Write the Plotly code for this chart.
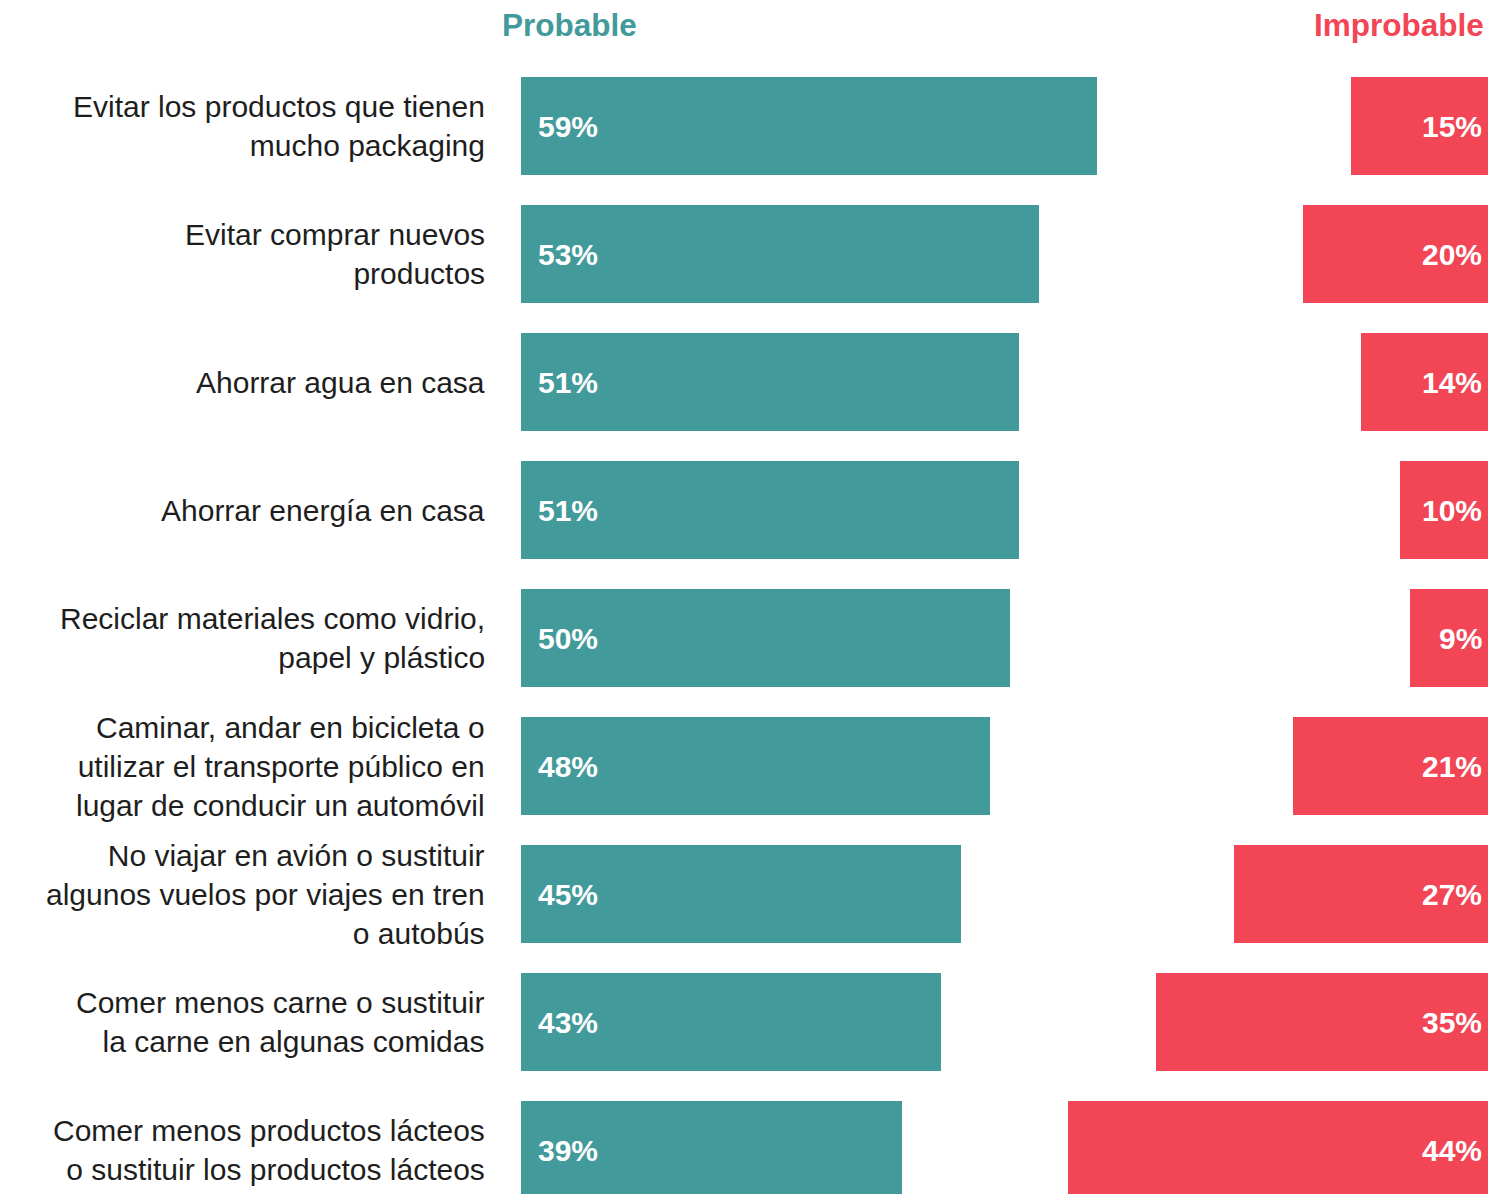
import plotly.graph_objects as go

# Survey items (top to bottom) and shares of respondents
categories = [
    "Evitar los productos que tienen<br>mucho packaging",
    "Evitar comprar nuevos<br>productos",
    "Ahorrar agua en casa",
    "Ahorrar energía en casa",
    "Reciclar materiales como vidrio,<br>papel y plástico",
    "Caminar, andar en bicicleta o<br>utilizar el transporte público en<br>lugar de conducir un automóvil",
    "No viajar en avión o sustituir<br>algunos vuelos por viajes en tren<br>o autobús",
    "Comer menos carne o sustituir<br>la carne en algunas comidas",
    "Comer menos productos lácteos<br>o sustituir los productos lácteos",
]
probable = [59, 53, 51, 51, 50, 48, 45, 43, 39]
improbable = [15, 20, 14, 10, 9, 21, 27, 35, 44]

TEAL = "#439A9A"
RED = "#F24556"
TEXT = "#1E1E1E"
FONT = "Liberation Sans, Arial, sans-serif"

W, H = 1488, 1194
ORIGIN_PX = 521          # pixel where the 0 % baseline sits
PX_PER_UNIT = 9.77       # pixels per percentage point
ROW_PX, ROW0_PX = 128, 126
FULL = 100               # red bars grow leftwards from the 100 % mark

rows = list(range(len(categories)))


def px_to_x(px):
    return (px - ORIGIN_PX) / PX_PER_UNIT


fig = go.Figure()

fig.add_trace(go.Bar(
    y=rows, x=probable, base=0, orientation="h",
    marker=dict(color=TEAL, line=dict(width=0)),
    width=98 / ROW_PX, hoverinfo="skip", showlegend=False,
))
fig.add_trace(go.Bar(
    y=rows, x=improbable, base=[FULL - v for v in improbable], orientation="h",
    marker=dict(color=RED, line=dict(width=0)),
    width=98 / ROW_PX, hoverinfo="skip", showlegend=False,
))

annotations = []
for i, (cat, p, q) in enumerate(zip(categories, probable, improbable)):
    annotations.append(dict(
        x=px_to_x(487), y=i, xref="x", yref="y", text=cat,
        xanchor="right", yanchor="middle", align="right", showarrow=False,
        font=dict(family=FONT, size=30, color=TEXT),
    ))
    annotations.append(dict(
        x=px_to_x(536), y=i, xref="x", yref="y", text=f"<b>{p}%</b>",
        xanchor="left", yanchor="middle", showarrow=False,
        font=dict(family=FONT, size=30, color="white"),
    ))
    annotations.append(dict(
        x=px_to_x(1484), y=i, xref="x", yref="y", text=f"<b>{q}%</b>",
        xanchor="right", yanchor="middle", showarrow=False,
        font=dict(family=FONT, size=30, color="white"),
    ))

annotations.append(dict(
    x=px_to_x(569), y=1 - 25 / H, xref="x", yref="paper", text="<b>Probable</b>",
    xanchor="center", yanchor="middle", showarrow=False,
    font=dict(family=FONT, size=31.5, color=TEAL),
))
annotations.append(dict(
    x=px_to_x(1486), y=1 - 25 / H, xref="x", yref="paper", text="<b>Improbable</b>",
    xanchor="right", yanchor="middle", showarrow=False,
    font=dict(family=FONT, size=31.5, color=RED),
))

fig.update_layout(
    width=W, height=H,
    margin=dict(l=0, r=0, t=0, b=0),
    paper_bgcolor="white", plot_bgcolor="white",
    barmode="overlay", bargap=0,
    annotations=annotations,
    xaxis=dict(range=[px_to_x(0), px_to_x(W)], visible=False, fixedrange=True),
    yaxis=dict(range=[(H - ROW0_PX) / ROW_PX, -ROW0_PX / ROW_PX],
               visible=False, fixedrange=True),
)

fig.write_html("out.html")
